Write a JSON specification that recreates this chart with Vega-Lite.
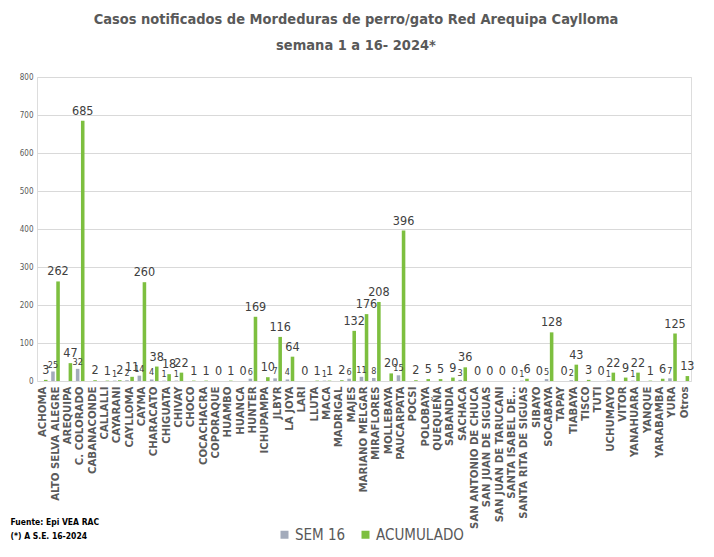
{
  "$schema": "https://vega.github.io/schema/vega-lite/v6.json",
  "width": 654,
  "height": 304,
  "autosize": {"type": "none"},
  "padding": {"left": 37, "top": 77, "right": 23, "bottom": 176},
  "background": "white",
  "title": {
    "text": ["Casos notificados de Mordeduras de perro/gato Red Arequipa Caylloma", "semana 1 a 16- 2024*"],
    "font": "DejaVu Sans Condensed, Liberation Sans, sans-serif",
    "fontSize": 14.5,
    "fontWeight": "bold",
    "color": "#595959",
    "anchor": "middle",
    "offset": 20,
    "lineHeight": 26,
    "dx": -8
  },
  "data": {
    "values": [
      {"distrito": "ACHOMA", "serie": "SEM 16", "casos": 0}, {"distrito": "ACHOMA", "serie": "ACUMULADO", "casos": 3},
      {"distrito": "ALTO SELVA ALEGRE", "serie": "SEM 16", "casos": 25}, {"distrito": "ALTO SELVA ALEGRE", "serie": "ACUMULADO", "casos": 262},
      {"distrito": "AREQUIPA", "serie": "SEM 16", "casos": 0}, {"distrito": "AREQUIPA", "serie": "ACUMULADO", "casos": 47},
      {"distrito": "C. COLORADO", "serie": "SEM 16", "casos": 32}, {"distrito": "C. COLORADO", "serie": "ACUMULADO", "casos": 685},
      {"distrito": "CABANACONDE", "serie": "SEM 16", "casos": 0}, {"distrito": "CABANACONDE", "serie": "ACUMULADO", "casos": 2},
      {"distrito": "CALLALLI", "serie": "SEM 16", "casos": 0}, {"distrito": "CALLALLI", "serie": "ACUMULADO", "casos": 1},
      {"distrito": "CAYARANI", "serie": "SEM 16", "casos": 1}, {"distrito": "CAYARANI", "serie": "ACUMULADO", "casos": 2},
      {"distrito": "CAYLLOMA", "serie": "SEM 16", "casos": 2}, {"distrito": "CAYLLOMA", "serie": "ACUMULADO", "casos": 11},
      {"distrito": "CAYMA", "serie": "SEM 16", "casos": 14}, {"distrito": "CAYMA", "serie": "ACUMULADO", "casos": 260},
      {"distrito": "CHARACATO", "serie": "SEM 16", "casos": 4}, {"distrito": "CHARACATO", "serie": "ACUMULADO", "casos": 38},
      {"distrito": "CHIGUATA", "serie": "SEM 16", "casos": 1}, {"distrito": "CHIGUATA", "serie": "ACUMULADO", "casos": 18},
      {"distrito": "CHIVAY", "serie": "SEM 16", "casos": 1}, {"distrito": "CHIVAY", "serie": "ACUMULADO", "casos": 22},
      {"distrito": "CHOCO", "serie": "SEM 16", "casos": 0}, {"distrito": "CHOCO", "serie": "ACUMULADO", "casos": 1},
      {"distrito": "COCACHACRA", "serie": "SEM 16", "casos": 0}, {"distrito": "COCACHACRA", "serie": "ACUMULADO", "casos": 1},
      {"distrito": "COPORAQUE", "serie": "SEM 16", "casos": 0}, {"distrito": "COPORAQUE", "serie": "ACUMULADO", "casos": 0},
      {"distrito": "HUAMBO", "serie": "SEM 16", "casos": 0}, {"distrito": "HUAMBO", "serie": "ACUMULADO", "casos": 1},
      {"distrito": "HUANCA", "serie": "SEM 16", "casos": 0}, {"distrito": "HUANCA", "serie": "ACUMULADO", "casos": 0},
      {"distrito": "HUNTER", "serie": "SEM 16", "casos": 6}, {"distrito": "HUNTER", "serie": "ACUMULADO", "casos": 169},
      {"distrito": "ICHUPAMPA", "serie": "SEM 16", "casos": 0}, {"distrito": "ICHUPAMPA", "serie": "ACUMULADO", "casos": 10},
      {"distrito": "JLBYR", "serie": "SEM 16", "casos": 7}, {"distrito": "JLBYR", "serie": "ACUMULADO", "casos": 116},
      {"distrito": "LA JOYA", "serie": "SEM 16", "casos": 4}, {"distrito": "LA JOYA", "serie": "ACUMULADO", "casos": 64},
      {"distrito": "LARI", "serie": "SEM 16", "casos": 0}, {"distrito": "LARI", "serie": "ACUMULADO", "casos": 0},
      {"distrito": "LLUTA", "serie": "SEM 16", "casos": 0}, {"distrito": "LLUTA", "serie": "ACUMULADO", "casos": 1},
      {"distrito": "MACA", "serie": "SEM 16", "casos": 1}, {"distrito": "MACA", "serie": "ACUMULADO", "casos": 1},
      {"distrito": "MADRIGAL", "serie": "SEM 16", "casos": 0}, {"distrito": "MADRIGAL", "serie": "ACUMULADO", "casos": 2},
      {"distrito": "MAJES", "serie": "SEM 16", "casos": 6}, {"distrito": "MAJES", "serie": "ACUMULADO", "casos": 132},
      {"distrito": "MARIANO MELGAR", "serie": "SEM 16", "casos": 11}, {"distrito": "MARIANO MELGAR", "serie": "ACUMULADO", "casos": 176},
      {"distrito": "MIRAFLORES", "serie": "SEM 16", "casos": 8}, {"distrito": "MIRAFLORES", "serie": "ACUMULADO", "casos": 208},
      {"distrito": "MOLLEBAYA", "serie": "SEM 16", "casos": 0}, {"distrito": "MOLLEBAYA", "serie": "ACUMULADO", "casos": 20},
      {"distrito": "PAUCARPATA", "serie": "SEM 16", "casos": 15}, {"distrito": "PAUCARPATA", "serie": "ACUMULADO", "casos": 396},
      {"distrito": "POCSI", "serie": "SEM 16", "casos": 0}, {"distrito": "POCSI", "serie": "ACUMULADO", "casos": 2},
      {"distrito": "POLOBAYA", "serie": "SEM 16", "casos": 0}, {"distrito": "POLOBAYA", "serie": "ACUMULADO", "casos": 5},
      {"distrito": "QUEQUEÑA", "serie": "SEM 16", "casos": 0}, {"distrito": "QUEQUEÑA", "serie": "ACUMULADO", "casos": 5},
      {"distrito": "SABANDIA", "serie": "SEM 16", "casos": 0}, {"distrito": "SABANDIA", "serie": "ACUMULADO", "casos": 9},
      {"distrito": "SACHACA", "serie": "SEM 16", "casos": 3}, {"distrito": "SACHACA", "serie": "ACUMULADO", "casos": 36},
      {"distrito": "SAN ANTONIO DE CHUCA", "serie": "SEM 16", "casos": 0}, {"distrito": "SAN ANTONIO DE CHUCA", "serie": "ACUMULADO", "casos": 0},
      {"distrito": "SAN JUAN DE SIGUAS", "serie": "SEM 16", "casos": 0}, {"distrito": "SAN JUAN DE SIGUAS", "serie": "ACUMULADO", "casos": 0},
      {"distrito": "SAN JUAN DE TARUCANI", "serie": "SEM 16", "casos": 0}, {"distrito": "SAN JUAN DE TARUCANI", "serie": "ACUMULADO", "casos": 0},
      {"distrito": "SANTA ISABEL DE...", "serie": "SEM 16", "casos": 0}, {"distrito": "SANTA ISABEL DE...", "serie": "ACUMULADO", "casos": 0},
      {"distrito": "SANTA RITA DE SIGUAS", "serie": "SEM 16", "casos": 1}, {"distrito": "SANTA RITA DE SIGUAS", "serie": "ACUMULADO", "casos": 6},
      {"distrito": "SIBAYO", "serie": "SEM 16", "casos": 0}, {"distrito": "SIBAYO", "serie": "ACUMULADO", "casos": 0},
      {"distrito": "SOCABAYA", "serie": "SEM 16", "casos": 5}, {"distrito": "SOCABAYA", "serie": "ACUMULADO", "casos": 128},
      {"distrito": "TAPAY", "serie": "SEM 16", "casos": 0}, {"distrito": "TAPAY", "serie": "ACUMULADO", "casos": 0},
      {"distrito": "TIABAYA", "serie": "SEM 16", "casos": 2}, {"distrito": "TIABAYA", "serie": "ACUMULADO", "casos": 43},
      {"distrito": "TISCO", "serie": "SEM 16", "casos": 0}, {"distrito": "TISCO", "serie": "ACUMULADO", "casos": 3},
      {"distrito": "TUTI", "serie": "SEM 16", "casos": 0}, {"distrito": "TUTI", "serie": "ACUMULADO", "casos": 0},
      {"distrito": "UCHUMAYO", "serie": "SEM 16", "casos": 1}, {"distrito": "UCHUMAYO", "serie": "ACUMULADO", "casos": 22},
      {"distrito": "VITOR", "serie": "SEM 16", "casos": 0}, {"distrito": "VITOR", "serie": "ACUMULADO", "casos": 9},
      {"distrito": "YANAHUARA", "serie": "SEM 16", "casos": 1}, {"distrito": "YANAHUARA", "serie": "ACUMULADO", "casos": 22},
      {"distrito": "YANQUE", "serie": "SEM 16", "casos": 0}, {"distrito": "YANQUE", "serie": "ACUMULADO", "casos": 1},
      {"distrito": "YARABAMBA", "serie": "SEM 16", "casos": 0}, {"distrito": "YARABAMBA", "serie": "ACUMULADO", "casos": 6},
      {"distrito": "YURA", "serie": "SEM 16", "casos": 7}, {"distrito": "YURA", "serie": "ACUMULADO", "casos": 125},
      {"distrito": "Otros", "serie": "SEM 16", "casos": 0}, {"distrito": "Otros", "serie": "ACUMULADO", "casos": 13}
    ]
  },
  "encoding": {
    "x": {
      "field": "distrito",
      "type": "nominal",
      "sort": null,
      "scale": {"paddingInner": 0.3, "paddingOuter": 0.15},
      "axis": {
        "labelAngle": -90,
        "labelFont": "DejaVu Sans",
        "labelFontWeight": "bold",
        "labelFontSize": 10.2,
        "labelColor": "#595959",
        "labelPadding": 5,
        "labelLimit": 220,
        "ticks": false,
        "domain": false,
        "title": ["Fuente: Epi VEA RAC", "(*) A S.E. 16-2024"],
        "titleX": -27,
        "titleY": 136,
        "titleAlign": "left",
        "titleAnchor": "start",
        "titleBaseline": "top",
        "titleFont": "DejaVu Sans Condensed, Liberation Sans, sans-serif",
        "titleFontSize": 8.5,
        "titleFontWeight": "bold",
        "titleColor": "#000000",
        "titleLineHeight": 14
      }
    },
    "xOffset": {"field": "serie", "type": "nominal", "sort": ["SEM 16", "ACUMULADO"], "scale": {"paddingInner": 0.3}},
    "y": {
      "field": "casos",
      "type": "quantitative",
      "scale": {"domain": [0, 800]},
      "axis": {
        "values": [0, 100, 200, 300, 400, 500, 600, 700, 800],
        "title": null,
        "domain": false,
        "ticks": false,
        "labelFont": "DejaVu Sans Condensed, Liberation Sans, sans-serif",
        "labelFontSize": 8,
        "labelColor": "#595959",
        "labelPadding": 4,
        "gridColor": "#d9d9d9"
      }
    }
  },
  "layer": [
    {
      "mark": {"type": "bar"},
      "encoding": {
        "color": {
          "field": "serie",
          "type": "nominal",
          "sort": ["SEM 16", "ACUMULADO"],
          "scale": {"domain": ["SEM 16", "ACUMULADO"], "range": ["#a3abbb", "#7dbf3f"]},
          "legend": {
            "orient": "none",
            "legendX": 240,
            "legendY": 450,
            "direction": "horizontal",
            "title": null,
            "symbolType": "square",
            "symbolSize": 64,
            "symbolStrokeWidth": 0,
            "labelFont": "DejaVu Sans Condensed, Liberation Sans, sans-serif",
            "labelFontSize": 15,
            "labelColor": "#595959",
            "columnPadding": 12,
            "labelOffset": 3
          }
        }
      }
    },
    {
      "transform": [{"filter": "datum.serie == 'ACUMULADO'"}],
      "mark": {"type": "text", "baseline": "bottom", "dy": -3, "font": "DejaVu Sans Condensed, Liberation Sans, sans-serif", "fontSize": 12.5, "color": "#404040"},
      "encoding": {"text": {"field": "casos", "type": "quantitative"}}
    },
    {
      "transform": [{"filter": "datum.serie == 'SEM 16' && datum.casos > 0"}],
      "mark": {"type": "text", "baseline": "bottom", "dy": -2, "font": "DejaVu Sans Condensed, Liberation Sans, sans-serif", "fontSize": 9, "color": "#404040"},
      "encoding": {"text": {"field": "casos", "type": "quantitative"}}
    }
  ]
}
